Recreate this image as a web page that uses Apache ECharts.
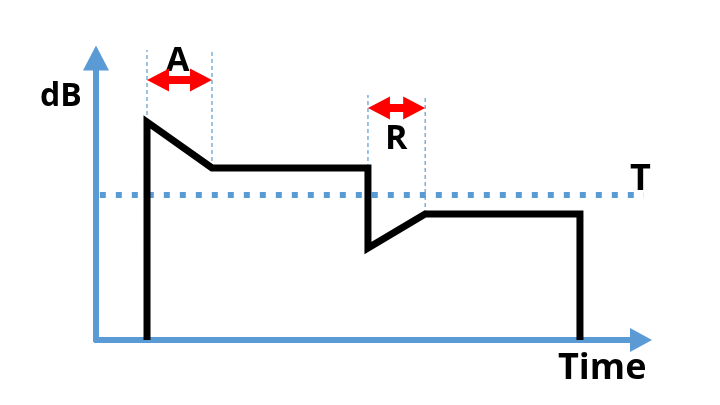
<!DOCTYPE html>
<html>
<head>
<meta charset="utf-8">
<script src="https://cdn.jsdelivr.net/npm/echarts@6/dist/echarts.min.js"></script>
<style>html,body{margin:0;padding:0;background:#fff}#c{width:720px;height:405px}</style>
</head>
<body>
<div id="c"></div>
<script>
// Envelope (time, dB) vertices
var envTime = [9.36, 9.36, 21.28, 49.9, 49.9, 60.4, 88.8, 88.8];
var envDb   = [0, 77.3, 61.0, 61.0, 32.6, 44.7, 44.7, 0];
// Threshold
var thresholdDb = 51.4;
var thresholdSpan = [0.7, 101.2];
// Attack / release intervals
var attackSpan = [9.36, 21.28];
var releaseSpan = [49.9, 60.4];
var attackArrowDb = 92.2;
var releaseArrowDb = 82.3;
var attackGuideTop = 102.8;
var releaseGuideTop = 86.9;
var attackGuideBottom = [77.3, 61.0];
var releaseGuideBottom = [61.0, 44.7];

var BLUE = '#5B9BD5';
var FONT = '"Open Sans", "Liberation Sans", sans-serif';

function pairs(xs, ys){ return xs.map(function(x,i){return [x, ys[i]];}); }
function guide(x, y0, y1){
  return {type:'line', data:[[x,y0],[x,y1]], symbol:'none', clip:false, silent:true, z:1,
    lineStyle:{color:BLUE, width:1.2, type:[4,3]}};
}

var chart = echarts.init(document.getElementById('c'));
chart.setOption({
  animation:false,
  grid:{left:96, right:79, top:58, bottom:65},
  xAxis:{type:'value', min:0, max:100, splitLine:{show:false}, axisTick:{show:false}, axisLabel:{show:false},
    axisLine:{show:true, symbol:['none','triangle'], symbolSize:[24,22], lineStyle:{color:BLUE, width:6}}},
  yAxis:{type:'value', min:0, max:100, splitLine:{show:false}, axisTick:{show:false}, axisLabel:{show:false},
    axisLine:{show:true, symbol:['none','triangle'], symbolSize:[26,25], lineStyle:{color:BLUE, width:6}}},
  series:[
    {type:'line', data:[[thresholdSpan[0], thresholdDb],[thresholdSpan[1], thresholdDb]], symbol:'none', clip:false, z:2,
      lineStyle:{color:BLUE, width:6, type:[6,10], cap:'butt'}},
    guide(attackSpan[0], attackGuideBottom[0], attackGuideTop),
    guide(attackSpan[1], attackGuideBottom[1], attackGuideTop),
    guide(releaseSpan[0], releaseGuideBottom[0], releaseGuideTop),
    guide(releaseSpan[1], releaseGuideBottom[1], releaseGuideTop),
    {type:'line', data:pairs(envTime, envDb), symbol:'none', clip:false, z:3,
      lineStyle:{color:'#000', width:7, join:'miter', cap:'butt'}},
    {type:'custom', clip:false, silent:true, z:5,
      data:[[attackSpan[0], attackSpan[1], attackArrowDb],[releaseSpan[0], releaseSpan[1], releaseArrowDb]],
      encode:{x:[0,1], y:2},
      renderItem:function(params, api){
        var a = api.coord([api.value(0), api.value(2)]);
        var b = api.coord([api.value(1), api.value(2)]);
        var y = a[1], x1 = a[0], x2 = b[0];
        var hl = 22, hh = 11.5, sh = 4;
        return {type:'polygon', shape:{points:[
          [x1, y], [x1+hl, y-hh], [x1+hl, y-sh], [x2-hl, y-sh], [x2-hl, y-hh],
          [x2, y], [x2-hl, y+hh], [x2-hl, y+sh], [x1+hl, y+sh], [x1+hl, y+hh]
        ]}, style:{fill:'#FF0000'}};
      }}
  ],
  graphic:[
    {type:'text', left:40, top:81, style:{text:'dB', font:'bold 32px '+FONT, fill:'#000'}},
    {type:'text', left:558, top:351, style:{text:'Time', font:'bold 36px '+FONT, fill:'#000'}},
    {type:'text', left:166, top:44, style:{text:'A', font:'bold 34px '+FONT, fill:'#000'}},
    {type:'text', left:385, top:122, style:{text:'R', font:'bold 34px '+FONT, fill:'#000'}},
    {type:'text', left:630, top:162, style:{text:'T', font:'bold 36px '+FONT, fill:'#000'}}
  ]
});
</script>
</body>
</html>
